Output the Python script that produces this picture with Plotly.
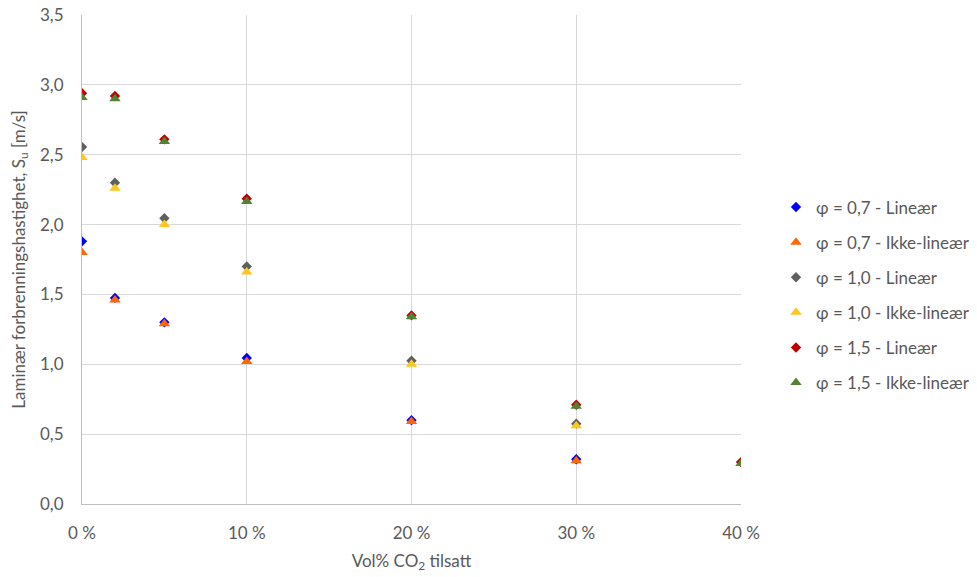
import plotly.graph_objects as go

# CO2 fraction added (volume share)
co2 = [0.0, 0.02, 0.05, 0.10, 0.20, 0.30]
co2_rich = [0.0, 0.02, 0.05, 0.10, 0.20, 0.30, 0.40]

# Laminar burning velocity S_u [m/s]
phi07_lin = [1.88, 1.475, 1.30, 1.045, 0.60, 0.32]
phi07_nonlin = [1.80, 1.46, 1.29, 1.02, 0.59, 0.31]
phi10_lin = [2.555, 2.30, 2.045, 1.70, 1.025, 0.575]
phi10_nonlin = [2.48, 2.26, 2.00, 1.66, 1.00, 0.56]
phi15_lin = [2.94, 2.92, 2.61, 2.185, 1.35, 0.71, 0.30]
phi15_nonlin = [2.91, 2.90, 2.595, 2.165, 1.34, 0.70, 0.29]

x_ticks = [0.0, 0.1, 0.2, 0.3, 0.4]
x_ticklabels = ["0 %", "10 %", "20 %", "30 %", "40 %"]
y_ticks = [0.0, 0.5, 1.0, 1.5, 2.0, 2.5, 3.0, 3.5]
y_ticklabels = ["0,0", "0,5", "1,0", "1,5", "2,0", "2,5", "3,0", "3,5"]

series = [
    ("φ = 0,7 - Lineær", co2, phi07_lin, "diamond", "#0000FF", 8),
    ("φ = 0,7 - Ikke-lineær", co2, phi07_nonlin, "triangle-up", "#FF6600", 10),
    ("φ = 1,0 - Lineær", co2, phi10_lin, "diamond", "#5F5F5F", 8),
    ("φ = 1,0 - Ikke-lineær", co2, phi10_nonlin, "triangle-up", "#FFC61E", 10),
    ("φ = 1,5 - Lineær", co2_rich, phi15_lin, "diamond", "#C00000", 8),
    ("φ = 1,5 - Ikke-lineær", co2_rich, phi15_nonlin, "triangle-up", "#548235", 10),
]

fig = go.Figure()
for i, (name, xs, ys, sym, col, size) in enumerate(series):
    fig.add_trace(go.Scatter(
        x=xs, y=ys, mode="markers", name=name, legendgroup=f"g{i}",
        marker=dict(symbol=sym, color=col, size=size, line=dict(width=0)),
    ))

font_family = "Lato, Open Sans, sans-serif"
fig.update_layout(
    width=977, height=577,
    margin=dict(l=82, r=236, t=15, b=73, autoexpand=False),
    paper_bgcolor="white", plot_bgcolor="white",
    font=dict(family=font_family, size=17, color="#595959"),
    showlegend=True,
    legend=dict(
        xref="container", yref="container",
        x=776 / 977, y=1 - 295 / 577, xanchor="left", yanchor="middle",
        font=dict(size=17, color="#595959"),
        tracegroupgap=10, itemwidth=30,
        bgcolor="rgba(0,0,0,0)",
    ),
    xaxis=dict(
        range=[0, 0.4], tickvals=x_ticks, ticktext=x_ticklabels,
        showgrid=True, gridcolor="#D9D9D9", gridwidth=1,
        zeroline=False, showline=True, linecolor="#BFBFBF", linewidth=1,
        ticks="", ticklabelstandoff=14, automargin=False,
        title=dict(text="Vol% CO<sub>2</sub> tilsatt", standoff=12,
                   font=dict(size=17, color="#595959")),
    ),
    yaxis=dict(
        range=[0, 3.5], tickvals=y_ticks, ticktext=y_ticklabels,
        showgrid=True, gridcolor="#D9D9D9", gridwidth=1,
        zeroline=False, showline=True, linecolor="#BFBFBF", linewidth=1,
        ticks="", ticklabelstandoff=14, automargin=False,
        title=dict(text="Laminær forbrenningshastighet, S<sub>u</sub> [m/s]",
                   standoff=10, font=dict(size=17, color="#595959")),
    ),
)

fig.write_html("out.html")
